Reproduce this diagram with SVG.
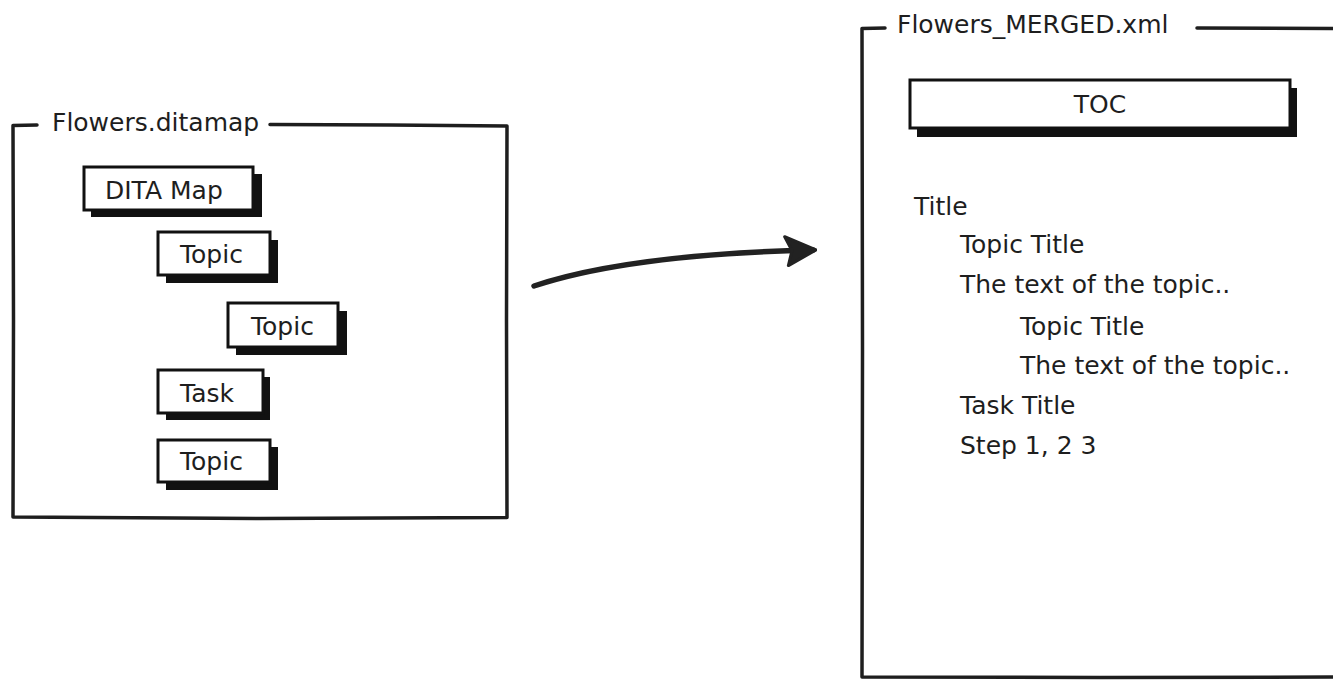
<svg xmlns="http://www.w3.org/2000/svg" width="1333" height="681" viewBox="0 0 1333 681">
<defs>
<style>
.frame{fill:none;stroke:#1e1e1e;stroke-width:3.5;stroke-linecap:round;stroke-linejoin:round}
.box{fill:#fff;stroke:#111;stroke-width:3}
.shadow{fill:#111}
text{font-family:"DejaVu Sans","Noto Sans",sans-serif;font-size:25px;fill:#1e1e1e}
.conn{fill:none;stroke:#222;stroke-width:5.5;stroke-linecap:round}
</style>
<marker id="head" markerUnits="userSpaceOnUse" viewBox="-34 -18 38 36" markerWidth="38" markerHeight="36" refX="0" refY="0" orient="auto">
<path d="M3,0 L-28,-14 L-21,0 L-25,15 Z" fill="#222" stroke="#222" stroke-width="3" stroke-linejoin="round"/>
</marker>
</defs>
<rect width="1333" height="681" fill="#fff"/>

<g id="frame-ditamap">
<path class="frame" d="M37,125 L13,125.5 L13.5,320 L13,517 L260,518.5 L507,517.5 L506.5,320 L507,126 L390,125 L270,124.5"/>
<text x="52" y="131">Flowers.ditamap</text>
</g>

<g id="node-ditamap">
<rect class="shadow" x="91" y="174" width="171" height="43"/>
<rect class="box" x="84" y="167" width="169" height="43"/>
<text x="105" y="199">DITA Map</text>
</g>
<g id="node-topic1">
<rect class="shadow" x="166" y="240" width="112" height="43"/>
<rect class="box" x="158" y="232" width="112" height="43"/>
<text x="180" y="263">Topic</text>
</g>
<g id="node-topic2">
<rect class="shadow" x="236" y="311" width="111" height="44"/>
<rect class="box" x="228" y="303" width="110" height="44"/>
<text x="251" y="335">Topic</text>
</g>
<g id="node-task">
<rect class="shadow" x="166" y="377" width="104" height="43"/>
<rect class="box" x="158" y="370" width="105" height="43"/>
<text x="180" y="402">Task</text>
</g>
<g id="node-topic3">
<rect class="shadow" x="166" y="447" width="112" height="43"/>
<rect class="box" x="158" y="440" width="112" height="42"/>
<text x="180" y="470">Topic</text>
</g>

<g id="frame-merged">
<path class="frame" d="M885,28 L862,28.5 L862.5,350 L862,677 L1100,677.5 L1345,677"/>
<path class="frame" d="M1197,28 L1345,28.5"/>
<text x="897" y="33">Flowers_MERGED.xml</text>
</g>

<g id="node-toc">
<rect class="shadow" x="917" y="88" width="380" height="49"/>
<rect class="box" x="910" y="80" width="380" height="48"/>
<text x="1100" y="113" text-anchor="middle">TOC</text>
</g>

<g id="merged-content">
<text x="914" y="215">Title</text>
<text x="960" y="253">Topic Title</text>
<text x="960" y="293">The text of the topic..</text>
<text x="1020" y="335">Topic Title</text>
<text x="1020" y="374">The text of the topic..</text>
<text x="960" y="414">Task Title</text>
<text x="960" y="454">Step 1, 2 3</text>
</g>

<g id="connectors">
<path class="conn" d="M534,286 C600,264 690,253 813,250" marker-end="url(#head)"/>
</g>
</svg>
